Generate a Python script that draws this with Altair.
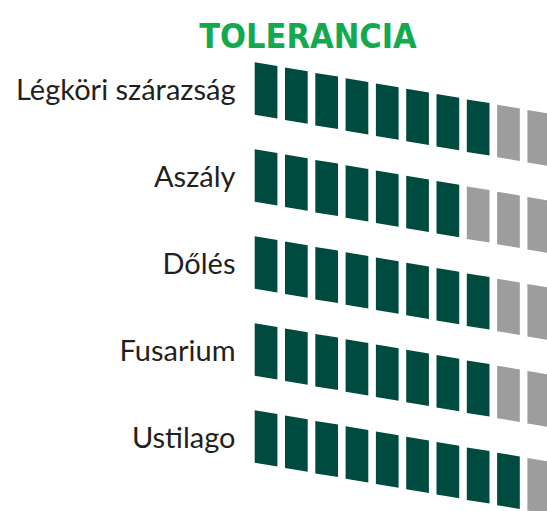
import altair as alt
import pandas as pd

# ---- data ----
traits = ["Légköri szárazság", "Aszály", "Dőlés", "Fusarium", "Ustilago"]
scores = [8, 7, 8, 8, 9]          # filled (dark) blocks out of 10
max_score = 10
title_text = "TOLERANCIA"

rows = []
for r, (t, s) in enumerate(zip(traits, scores)):
    for i in range(max_score):
        rows.append({"trait": t, "row": r, "block": i,
                     "status": "on" if i < s else "off"})
df = pd.DataFrame(rows)

DARK = "#004b3f"
GREY = "#9d9d9d"
GREEN = "#13aa4f"

# parallelogram block, unit square [-1,1]
shape = "M-0.404,-1 L0.404,-0.868 L0.404,1 L-0.404,0.868 Z"
slope = 5.3 / 87.0  # downward drift of each block, in row units

label_expr = "[" + ",".join(f"'{t}'" for t in traits) + "][datum.value]"

TITLE_SIZE = 34

chart = (
    alt.Chart(df)
    .transform_calculate(ypos=f"datum.row + datum.block * {slope}")
    .mark_point(shape=shape, filled=True, opacity=1, strokeWidth=0, size=3158, clip=True)
    .encode(
        x=alt.X("block:Q", scale=alt.Scale(domain=[-0.3977, 9.272], nice=False, zero=False), axis=None),
        y=alt.Y(
            "ypos:Q",
            scale=alt.Scale(domain=[-0.4069, 4.8345], nice=False, zero=False, reverse=True),
            axis=alt.Axis(
                values=[0, 1, 2, 3, 4],
                labelExpr=label_expr,
                title=None,
                domain=False,
                ticks=False,
                grid=False,
                labelPadding=19,
                labelOffset=9.5,
                labelBaseline="alphabetic",
                labelFont="Lato",
                labelFontSize=29,
                labelLimit=400,
                labelColor="#231f20",
                labelOverlap=False,
                labelBound=False,
                labelFlush=False,
            ),
        ),
        color=alt.Color("status:N", scale=alt.Scale(domain=["on", "off"], range=[DARK, GREY]), legend=None),
    )
    .properties(
        width=293,
        height=456,
        autosize=alt.AutoSizeParams(type="none"),
        padding={"left": 254, "top": 55, "right": 0, "bottom": 0},
        title=alt.TitleParams(
            text=title_text,
            anchor="middle",
            dx=-92.5,
            dy=TITLE_SIZE,
            offset=7,
            baseline="alphabetic",
            font="DejaVu Sans Condensed",
            fontSize=TITLE_SIZE,
            fontWeight="bold",
            color=GREEN,
        ),
    )
    .configure_view(stroke=None)
)

chart.save("out.html", embed_options={"renderer": "svg", "actions": False})
